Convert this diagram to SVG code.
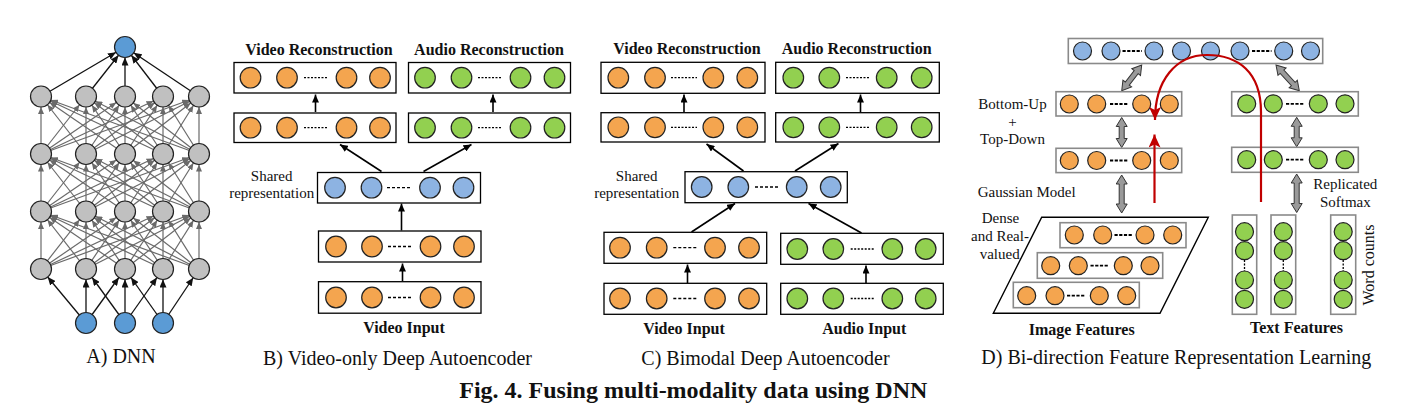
<svg xmlns="http://www.w3.org/2000/svg" xmlns:xlink="http://www.w3.org/1999/xlink" width="1413" height="418" viewBox="0 0 1413 418">
<style>
.bx{fill:#fff;stroke:#000;stroke-width:1.3}
.bxg{fill:#fff;stroke:#8a8a8a;stroke-width:1.6}
.o{fill:#f4a54f;stroke:#222;stroke-width:1.2}
.gr{fill:#92d050;stroke:#222;stroke-width:1.2}
.bl{fill:#8db3e2;stroke:#222;stroke-width:1.2}
.bd{fill:#5b9bd5;stroke:#222;stroke-width:1.2}
.gy{fill:#c0c0c0;stroke:#222;stroke-width:1.2}
.dot{stroke:#000;stroke-width:1.3;stroke-dasharray:2 1.5;fill:none}
.dsh{stroke:#000;stroke-width:1.3;stroke-dasharray:3 2;fill:none}
.dd{stroke:#000;stroke-width:1.8;stroke-dasharray:3.2 1.5;fill:none}
.ln{stroke:#000;stroke-width:1.6;fill:none;marker-end:url(#ab)}
.nk{stroke:#111;stroke-width:1.3;fill:none;marker-end:url(#an)}
.ng{stroke:#6a6a6a;stroke-width:1.2;fill:none;marker-end:url(#ag)}
.red{stroke:#c00000;stroke-width:2.2;fill:none;marker-end:url(#ar)}
.dbl{fill:#9a9a9a;stroke:#333;stroke-width:1}
.t{font-family:"Liberation Serif",serif;font-size:15px;fill:#111;text-anchor:middle}
.tb{font-family:"Liberation Serif",serif;font-size:16px;font-weight:bold;fill:#111;text-anchor:middle}
.cap{font-family:"Liberation Serif",serif;font-size:20px;fill:#111;text-anchor:middle}
.fig{font-family:"Liberation Serif",serif;font-size:24px;font-weight:bold;fill:#111;text-anchor:middle}
</style>
<defs>
<marker id="ab" markerUnits="userSpaceOnUse" markerWidth="8" markerHeight="7" refX="8" refY="3.5" orient="auto"><path d="M0,0 L8,3.5 L0,7 z" fill="#000"/></marker>
<marker id="an" markerUnits="userSpaceOnUse" markerWidth="8" markerHeight="7" refX="18.5" refY="3.5" orient="auto"><path d="M0,0 L8,3.5 L0,7 z" fill="#111"/></marker>
<marker id="ag" markerUnits="userSpaceOnUse" markerWidth="7" markerHeight="6" refX="17.5" refY="3" orient="auto"><path d="M0,0 L7,3 L0,6 z" fill="#6a6a6a"/></marker>
<marker id="ar" markerUnits="userSpaceOnUse" markerWidth="13" markerHeight="12" refX="13" refY="6" orient="auto"><path d="M0,0 L13,6 L0,12 L3,6 z" fill="#c00000"/></marker>
<g id="mesh">
<line class="ng" x1="41" y1="57.5" x2="41" y2="0"/><line class="ng" x1="41" y1="57.5" x2="86" y2="0"/><line class="ng" x1="41" y1="57.5" x2="125" y2="0"/><line class="ng" x1="41" y1="57.5" x2="163" y2="0"/><line class="ng" x1="41" y1="57.5" x2="199" y2="0"/>
<line class="ng" x1="86" y1="57.5" x2="41" y2="0"/><line class="ng" x1="86" y1="57.5" x2="86" y2="0"/><line class="ng" x1="86" y1="57.5" x2="125" y2="0"/><line class="ng" x1="86" y1="57.5" x2="163" y2="0"/><line class="ng" x1="86" y1="57.5" x2="199" y2="0"/>
<line class="ng" x1="125" y1="57.5" x2="41" y2="0"/><line class="ng" x1="125" y1="57.5" x2="86" y2="0"/><line class="ng" x1="125" y1="57.5" x2="125" y2="0"/><line class="ng" x1="125" y1="57.5" x2="163" y2="0"/><line class="ng" x1="125" y1="57.5" x2="199" y2="0"/>
<line class="ng" x1="163" y1="57.5" x2="41" y2="0"/><line class="ng" x1="163" y1="57.5" x2="86" y2="0"/><line class="ng" x1="163" y1="57.5" x2="125" y2="0"/><line class="ng" x1="163" y1="57.5" x2="163" y2="0"/><line class="ng" x1="163" y1="57.5" x2="199" y2="0"/>
<line class="ng" x1="199" y1="57.5" x2="41" y2="0"/><line class="ng" x1="199" y1="57.5" x2="86" y2="0"/><line class="ng" x1="199" y1="57.5" x2="125" y2="0"/><line class="ng" x1="199" y1="57.5" x2="163" y2="0"/><line class="ng" x1="199" y1="57.5" x2="199" y2="0"/>
</g>
</defs>
<rect width="1413" height="418" fill="#fff"/>

<g id="connectors">
<!-- Panel A -->
<use xlink:href="#mesh" href="#mesh" y="211.5"/>
<use xlink:href="#mesh" href="#mesh" y="154"/>
<use xlink:href="#mesh" href="#mesh" y="96.5"/>
<line class="nk" x1="41" y1="96.5" x2="125" y2="47"/>
<line class="nk" x1="86" y1="96.5" x2="125" y2="47"/>
<line class="nk" x1="125" y1="96.5" x2="125" y2="47"/>
<line class="nk" x1="163" y1="96.5" x2="125" y2="47"/>
<line class="nk" x1="199" y1="96.5" x2="125" y2="47"/>
<line class="nk" x1="86" y1="323" x2="41" y2="269"/>
<line class="nk" x1="86" y1="323" x2="86" y2="269"/>
<line class="nk" x1="86" y1="323" x2="125" y2="269"/>
<line class="nk" x1="125" y1="323" x2="86" y2="269"/>
<line class="nk" x1="125" y1="323" x2="125" y2="269"/>
<line class="nk" x1="125" y1="323" x2="163" y2="269"/>
<line class="nk" x1="163" y1="323" x2="125" y2="269"/>
<line class="nk" x1="163" y1="323" x2="163" y2="269"/>
<line class="nk" x1="163" y1="323" x2="199" y2="269"/>
<!-- Panel B -->
<line class="ln" x1="315.5" y1="112" x2="315.5" y2="94.5"/>
<line class="ln" x1="493" y1="112" x2="493" y2="94.5"/>
<line class="ln" x1="381.5" y1="171.5" x2="340" y2="144.5"/>
<line class="ln" x1="423.5" y1="171.5" x2="471.5" y2="144.5"/>
<line class="ln" x1="401.5" y1="230.5" x2="401.5" y2="203.5"/>
<line class="ln" x1="402.5" y1="281" x2="402.5" y2="263.5"/>
<!-- Panel C -->
<line class="ln" x1="684" y1="112" x2="684" y2="94.5"/>
<line class="ln" x1="860.5" y1="112" x2="860.5" y2="94.5"/>
<line class="ln" x1="743.5" y1="171" x2="706.5" y2="144"/>
<line class="ln" x1="795" y1="171" x2="838.5" y2="143.5"/>
<line class="ln" x1="691.5" y1="232" x2="735" y2="203.5"/>
<line class="ln" x1="861.5" y1="233" x2="808.5" y2="203.5"/>
<line class="ln" x1="687.5" y1="283" x2="687.5" y2="264.5"/>
<line class="ln" x1="866" y1="283" x2="866" y2="265.5"/>
<!-- Panel D -->
<polygon class="dbl" transform="translate(1141.7,65) rotate(127.9)" points="0,0 9,-5.5 9,-2.5 23.5,-2.5 23.5,-5.5 32.5,0 23.5,5.5 23.5,2.5 9,2.5 9,5.5"/>
<polygon class="dbl" transform="translate(1276,65) rotate(47.8)" points="0,0 9,-5.5 9,-2.5 25.7,-2.5 25.7,-5.5 34.7,0 25.7,5.5 25.7,2.5 9,2.5 9,5.5"/>
<polygon class="dbl" transform="translate(1121.7,117.5) rotate(90)" points="0,0 9,-5.5 9,-2.5 21,-2.5 21,-5.5 30,0 21,5.5 21,2.5 9,2.5 9,5.5"/>
<polygon class="dbl" transform="translate(1121.7,175) rotate(90)" points="0,0 9,-5.5 9,-2.5 29,-2.5 29,-5.5 38,0 29,5.5 29,2.5 9,2.5 9,5.5"/>
<polygon class="dbl" transform="translate(1296.7,117.3) rotate(90)" points="0,0 9,-5.5 9,-2.5 20.5,-2.5 20.5,-5.5 29.5,0 20.5,5.5 20.5,2.5 9,2.5 9,5.5"/>
<polygon class="dbl" transform="translate(1296.7,174) rotate(90)" points="0,0 9,-5.5 9,-2.5 29.5,-2.5 29.5,-5.5 38.5,0 29.5,5.5 29.5,2.5 9,2.5 9,5.5"/>
</g>

<g id="dnn-nodes">
<circle class="bd" cx="125" cy="47" r="10.5"/>
<circle class="gy" cx="41" cy="96.5" r="10.5"/><circle class="gy" cx="86" cy="96.5" r="10.5"/><circle class="gy" cx="125" cy="96.5" r="10.5"/><circle class="gy" cx="163" cy="96.5" r="10.5"/><circle class="gy" cx="199" cy="96.5" r="10.5"/>
<circle class="gy" cx="41" cy="154" r="10.5"/><circle class="gy" cx="86" cy="154" r="10.5"/><circle class="gy" cx="125" cy="154" r="10.5"/><circle class="gy" cx="163" cy="154" r="10.5"/><circle class="gy" cx="199" cy="154" r="10.5"/>
<circle class="gy" cx="41" cy="211.5" r="10.5"/><circle class="gy" cx="86" cy="211.5" r="10.5"/><circle class="gy" cx="125" cy="211.5" r="10.5"/><circle class="gy" cx="163" cy="211.5" r="10.5"/><circle class="gy" cx="199" cy="211.5" r="10.5"/>
<circle class="gy" cx="41" cy="269" r="10.5"/><circle class="gy" cx="86" cy="269" r="10.5"/><circle class="gy" cx="125" cy="269" r="10.5"/><circle class="gy" cx="163" cy="269" r="10.5"/><circle class="gy" cx="199" cy="269" r="10.5"/>
<circle class="bd" cx="86" cy="323" r="10.5"/><circle class="bd" cx="125" cy="323" r="10.5"/><circle class="bd" cx="163" cy="323" r="10.5"/>
<text class="cap" x="121" y="363">A) DNN</text>
</g>

<!-- Panel B -->
<g id="b-video-recon">
<text class="tb" x="319" y="55">Video Reconstruction</text>
<rect class="bx" x="234" y="62.5" width="162" height="30.5"/>
<circle class="o" cx="250.5" cy="77.7" r="10.3"/><circle class="o" cx="287" cy="77.7" r="10.3"/><circle class="o" cx="346.5" cy="77.7" r="10.3"/><circle class="o" cx="380" cy="77.7" r="10.3"/>
<line class="dot" x1="304" y1="77.7" x2="328" y2="77.7"/>
</g>
<g id="b-audio-recon">
<text class="tb" x="489" y="55">Audio Reconstruction</text>
<rect class="bx" x="408.5" y="62.5" width="162" height="30.5"/>
<circle class="gr" cx="425" cy="77.7" r="10.3"/><circle class="gr" cx="461.5" cy="77.7" r="10.3"/><circle class="gr" cx="520.5" cy="77.7" r="10.3"/><circle class="gr" cx="554.5" cy="77.7" r="10.3"/>
<line class="dot" x1="478" y1="77.7" x2="502" y2="77.7"/>
</g>
<g id="b-video-hidden">
<rect class="bx" x="234" y="113" width="162" height="29.5"/>
<circle class="o" cx="250.5" cy="127.7" r="10.3"/><circle class="o" cx="287" cy="127.7" r="10.3"/><circle class="o" cx="346.5" cy="127.7" r="10.3"/><circle class="o" cx="380" cy="127.7" r="10.3"/>
<line class="dot" x1="304" y1="127.7" x2="328" y2="127.7"/>
</g>
<g id="b-audio-hidden">
<rect class="bx" x="408.5" y="113" width="162" height="29.5"/>
<circle class="gr" cx="425" cy="127.7" r="10.3"/><circle class="gr" cx="461.5" cy="127.7" r="10.3"/><circle class="gr" cx="520.5" cy="127.7" r="10.3"/><circle class="gr" cx="554.5" cy="127.7" r="10.3"/>
<line class="dot" x1="478" y1="127.7" x2="502" y2="127.7"/>
</g>
<g id="b-shared">
<text class="t" x="271.7" y="181">Shared</text>
<text class="t" x="271.7" y="198.3">representation</text>
<rect class="bx" x="317.5" y="172.5" width="163" height="30.5"/>
<circle class="bl" cx="335" cy="187.7" r="10.3"/><circle class="bl" cx="371.5" cy="187.7" r="10.3"/><circle class="bl" cx="430" cy="187.7" r="10.3"/><circle class="bl" cx="463.5" cy="187.7" r="10.3"/>
<line class="dsh" x1="387" y1="187.7" x2="411" y2="187.7"/>
</g>
<g id="b-video-h1">
<rect class="bx" x="318.5" y="231" width="162.5" height="31"/>
<circle class="o" cx="336" cy="246.5" r="10.3"/><circle class="o" cx="372" cy="246.5" r="10.3"/><circle class="o" cx="430.5" cy="246.5" r="10.3"/><circle class="o" cx="464" cy="246.5" r="10.3"/>
<line class="dsh" x1="388" y1="246.5" x2="412" y2="246.5"/>
</g>
<g id="b-video-input">
<rect class="bx" x="318.5" y="281.7" width="162.5" height="31.5"/>
<circle class="o" cx="336" cy="297.5" r="10.3"/><circle class="o" cx="372" cy="297.5" r="10.3"/><circle class="o" cx="430.5" cy="297.5" r="10.3"/><circle class="o" cx="464" cy="297.5" r="10.3"/>
<line class="dsh" x1="388" y1="297.5" x2="412" y2="297.5"/>
<text class="tb" x="404" y="332.7">Video Input</text>
</g>
<text class="cap" x="397.5" y="365">B) Video-only Deep Autoencoder</text>

<!-- Panel C -->
<g id="c-video-recon">
<text class="tb" x="687" y="53.5">Video Reconstruction</text>
<rect class="bx" x="601" y="62.3" width="164" height="31"/>
<circle class="o" cx="618.3" cy="77.7" r="10.3"/><circle class="o" cx="655" cy="77.7" r="10.3"/><circle class="o" cx="713.3" cy="77.7" r="10.3"/><circle class="o" cx="747.3" cy="77.7" r="10.3"/>
<line class="dot" x1="671" y1="77.7" x2="697" y2="77.7"/>
</g>
<g id="c-audio-recon">
<text class="tb" x="856.7" y="53.5">Audio Reconstruction</text>
<rect class="bx" x="775.7" y="62.3" width="163.6" height="31"/>
<circle class="gr" cx="793.3" cy="77.7" r="10.3"/><circle class="gr" cx="829.3" cy="77.7" r="10.3"/><circle class="gr" cx="886.7" cy="77.7" r="10.3"/><circle class="gr" cx="921.7" cy="77.7" r="10.3"/>
<line class="dot" x1="846" y1="77.7" x2="870" y2="77.7"/>
</g>
<g id="c-video-hidden">
<rect class="bx" x="601" y="112.7" width="164" height="29.3"/>
<circle class="o" cx="618.3" cy="127.3" r="10.3"/><circle class="o" cx="655" cy="127.3" r="10.3"/><circle class="o" cx="713.3" cy="127.3" r="10.3"/><circle class="o" cx="747.3" cy="127.3" r="10.3"/>
<line class="dot" x1="671" y1="127.3" x2="697" y2="127.3"/>
</g>
<g id="c-audio-hidden">
<rect class="bx" x="775.7" y="112.7" width="163.6" height="29.3"/>
<circle class="gr" cx="793.3" cy="127.3" r="10.3"/><circle class="gr" cx="829.3" cy="127.3" r="10.3"/><circle class="gr" cx="886.7" cy="127.3" r="10.3"/><circle class="gr" cx="921.7" cy="127.3" r="10.3"/>
<line class="dot" x1="846" y1="127.3" x2="870" y2="127.3"/>
</g>
<g id="c-shared">
<text class="t" x="636.7" y="180.7">Shared</text>
<text class="t" x="636.7" y="198.3">representation</text>
<rect class="bx" x="685" y="171.7" width="162.3" height="31"/>
<circle class="bl" cx="701.7" cy="187" r="10.3"/><circle class="bl" cx="738.3" cy="187" r="10.3"/><circle class="bl" cx="796.7" cy="187" r="10.3"/><circle class="bl" cx="830.7" cy="187" r="10.3"/>
<line class="dsh" x1="755" y1="187" x2="778.5" y2="187"/>
</g>
<g id="c-video-h1">
<rect class="bx" x="604" y="232.3" width="162.7" height="31"/>
<circle class="o" cx="620" cy="247.7" r="10.3"/><circle class="o" cx="656.7" cy="247.7" r="10.3"/><circle class="o" cx="715" cy="247.7" r="10.3"/><circle class="o" cx="749" cy="247.7" r="10.3"/>
<line class="dsh" x1="673.3" y1="247.7" x2="696.7" y2="247.7"/>
</g>
<g id="c-audio-h1">
<rect class="bx" x="780.7" y="233.3" width="162.6" height="31"/>
<circle class="gr" cx="797.3" cy="249" r="10.3"/><circle class="gr" cx="833.3" cy="249" r="10.3"/><circle class="gr" cx="892.3" cy="249" r="10.3"/><circle class="gr" cx="925.7" cy="249" r="10.3"/>
<line class="dot" x1="850.7" y1="249" x2="875" y2="249"/>
</g>
<g id="c-video-input">
<rect class="bx" x="604" y="283.3" width="162.7" height="31"/>
<circle class="o" cx="620" cy="298.5" r="10.3"/><circle class="o" cx="656.7" cy="298.5" r="10.3"/><circle class="o" cx="715" cy="298.5" r="10.3"/><circle class="o" cx="749" cy="298.5" r="10.3"/>
<line class="dsh" x1="673.3" y1="298.5" x2="696.7" y2="298.5"/>
<text class="tb" x="684" y="334">Video Input</text>
</g>
<g id="c-audio-input">
<rect class="bx" x="780.7" y="283.3" width="162.6" height="31"/>
<circle class="gr" cx="797.3" cy="298.5" r="10.3"/><circle class="gr" cx="833.3" cy="298.5" r="10.3"/><circle class="gr" cx="892.3" cy="298.5" r="10.3"/><circle class="gr" cx="925.7" cy="298.5" r="10.3"/>
<line class="dot" x1="850.7" y1="298.5" x2="875" y2="298.5"/>
<text class="tb" x="864.3" y="334">Audio Input</text>
</g>
<text class="cap" x="765.5" y="365">C) Bimodal Deep Autoencoder</text>

<!-- Panel D -->
<g id="d-joint">
<rect class="bxg" x="1068.3" y="38.5" width="254.4" height="25"/>
<circle class="bl" cx="1082.5" cy="51" r="9"/><circle class="bl" cx="1111" cy="51" r="9"/><circle class="bl" cx="1154" cy="51" r="9"/><circle class="bl" cx="1181.5" cy="51" r="9"/><circle class="bl" cx="1210.5" cy="51" r="9"/><circle class="bl" cx="1240" cy="51" r="9"/><circle class="bl" cx="1283.7" cy="51" r="9"/><circle class="bl" cx="1310.5" cy="51" r="9"/>
<line class="dd" x1="1122.5" y1="51" x2="1142" y2="51"/>
<line class="dd" x1="1252" y1="51" x2="1271.5" y2="51"/>
</g>
<g id="d-img-h2">
<rect class="bxg" x="1056" y="91.7" width="125.7" height="24.3"/>
<circle class="o" cx="1069.3" cy="104" r="9"/><circle class="o" cx="1096.7" cy="104" r="9"/><circle class="o" cx="1141.7" cy="104" r="9"/><circle class="o" cx="1169.3" cy="104" r="9"/>
<line class="dd" x1="1110" y1="104" x2="1128.5" y2="104"/>
<text class="t" x="1012.5" y="109">Bottom-Up</text>
<text class="t" x="1012.5" y="126.5">+</text>
<text class="t" x="1012.5" y="144.3">Top-Down</text>
</g>
<g id="d-img-h1">
<rect class="bxg" x="1056" y="148.3" width="125.7" height="24.3"/>
<circle class="o" cx="1069.3" cy="160.5" r="9"/><circle class="o" cx="1096.7" cy="160.5" r="9"/><circle class="o" cx="1141.7" cy="160.5" r="9"/><circle class="o" cx="1169.3" cy="160.5" r="9"/>
<line class="dd" x1="1110" y1="160.5" x2="1128.5" y2="160.5"/>
<text class="t" x="1026.7" y="196.7">Gaussian Model</text>
</g>
<g id="d-txt-h2">
<rect class="bxg" x="1231.7" y="91.7" width="126.6" height="24.3"/>
<circle class="gr" cx="1246.7" cy="103.8" r="9"/><circle class="gr" cx="1273.3" cy="103.8" r="9"/><circle class="gr" cx="1318.3" cy="103.8" r="9"/><circle class="gr" cx="1345" cy="103.8" r="9"/>
<line class="dd" x1="1286" y1="103.8" x2="1304.5" y2="103.8"/>
</g>
<g id="d-txt-h1">
<rect class="bxg" x="1231.7" y="147.3" width="126.6" height="25"/>
<circle class="gr" cx="1246.7" cy="159.7" r="9"/><circle class="gr" cx="1273.3" cy="159.7" r="9"/><circle class="gr" cx="1318.3" cy="159.7" r="9"/><circle class="gr" cx="1345" cy="159.7" r="9"/>
<line class="dd" x1="1286" y1="159.7" x2="1304.5" y2="159.7"/>
<text class="t" x="1345.3" y="189.3">Replicated</text>
<text class="t" x="1345.3" y="206.7">Softmax</text>
</g>
<g id="d-image-features">
<polygon points="1041.7,217.3 1208.3,217.3 1160,313.3 993.3,313.3" fill="#fff" stroke="#000" stroke-width="1.4"/>
<text class="t" x="1000.5" y="223.3">Dense</text>
<text class="t" x="1000" y="241">and Real-</text>
<text class="t" x="999.7" y="259">valued</text>
<rect class="bxg" x="1060" y="222.7" width="126" height="25"/>
<circle class="o" cx="1074.3" cy="235" r="9"/><circle class="o" cx="1102.7" cy="235" r="9"/><circle class="o" cx="1145" cy="235" r="9"/><circle class="o" cx="1172.7" cy="235" r="9"/>
<line class="dd" x1="1114.5" y1="235" x2="1133" y2="235"/>
<rect class="bxg" x="1037.3" y="252.7" width="125.4" height="25.6"/>
<circle class="o" cx="1050.7" cy="265.7" r="9"/><circle class="o" cx="1078.3" cy="265.7" r="9"/><circle class="o" cx="1123.3" cy="265.7" r="9"/><circle class="o" cx="1150" cy="265.7" r="9"/>
<line class="dd" x1="1090.5" y1="265.7" x2="1109" y2="265.7"/>
<rect class="bxg" x="1013.3" y="282.3" width="126" height="25.4"/>
<circle class="o" cx="1026.7" cy="295.7" r="9"/><circle class="o" cx="1055" cy="295.7" r="9"/><circle class="o" cx="1099.3" cy="295.7" r="9"/><circle class="o" cx="1126.7" cy="295.7" r="9"/>
<line class="dd" x1="1067" y1="295.7" x2="1085.5" y2="295.7"/>
<text class="tb" x="1081.7" y="335">Image Features</text>
</g>
<g id="d-text-features">
<rect class="bxg" x="1232.3" y="215" width="24.4" height="99.3"/>
<circle class="gr" cx="1244.5" cy="231.7" r="9"/><circle class="gr" cx="1244.5" cy="250.7" r="9"/><circle class="gr" cx="1244.5" cy="280" r="9"/><circle class="gr" cx="1244.5" cy="299.3" r="9"/>
<line class="dot" x1="1244.5" y1="260" x2="1244.5" y2="271"/>
<rect class="bxg" x="1271" y="215" width="24.7" height="99.3"/>
<circle class="gr" cx="1283.3" cy="231.7" r="9"/><circle class="gr" cx="1283.3" cy="250.7" r="9"/><circle class="gr" cx="1283.3" cy="280" r="9"/><circle class="gr" cx="1283.3" cy="299.3" r="9"/>
<line class="dot" x1="1283.3" y1="260" x2="1283.3" y2="271"/>
<rect class="bxg" x="1330.7" y="215" width="25" height="99.3"/>
<circle class="gr" cx="1343.2" cy="231.7" r="9"/><circle class="gr" cx="1343.2" cy="250.7" r="9"/><circle class="gr" cx="1343.2" cy="280" r="9"/><circle class="gr" cx="1343.2" cy="299.3" r="9"/>
<line class="dot" x1="1343.2" y1="260" x2="1343.2" y2="271"/>
<text class="t" style="font-size:16px" transform="translate(1374,265) rotate(-90)">Word counts</text>
<text class="tb" x="1296.5" y="332.7">Text Features</text>
</g>
<text class="cap" x="1176.3" y="364">D) Bi-direction Feature Representation Learning</text>

<g id="red-connectors">
<path class="red" d="M1154.5,203 L1154.5,134.5"/>
<path class="red" d="M1261,202 L1261,112 C1261,72 1238,55 1207,55 C1176,55 1155,80 1155,120"/>
</g>

<text class="fig" x="693.3" y="398">Fig. 4. Fusing multi-modality data using DNN</text>
</svg>
